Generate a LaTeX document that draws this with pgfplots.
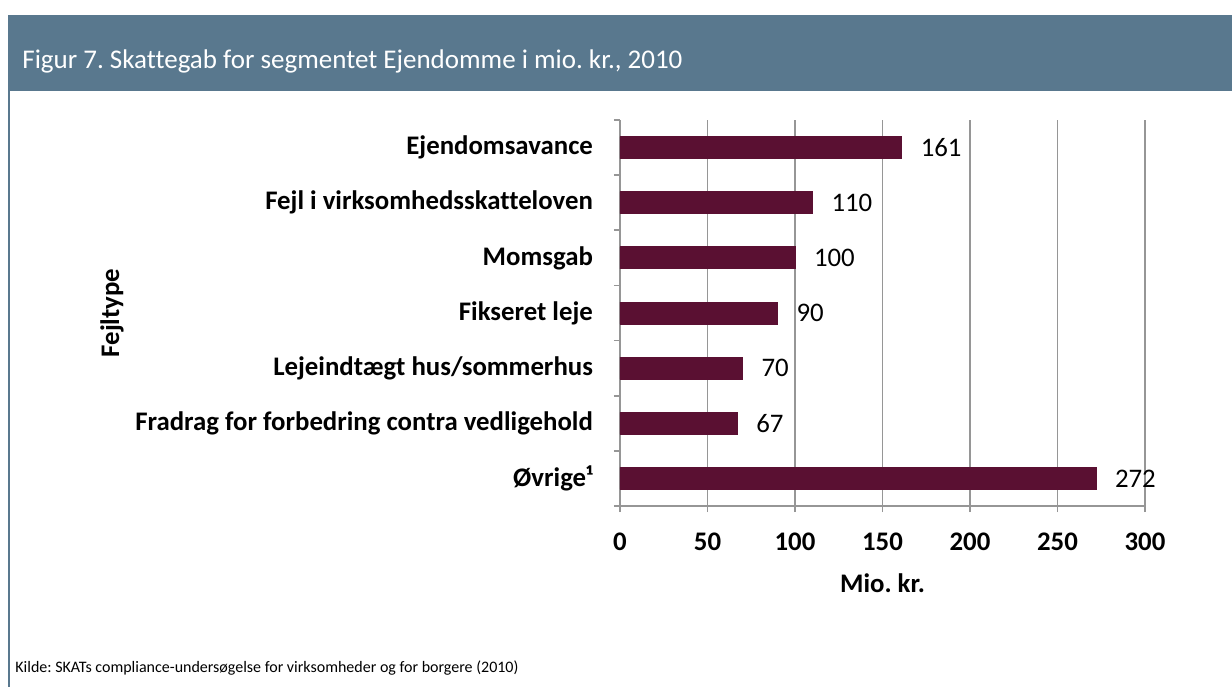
\documentclass[border=0pt]{standalone}
\usepackage{fontspec}
\setmainfont[Ligatures={TeX,NoCommon}]{Carlito}
\usepackage{pgfplots}
\pgfplotsset{compat=1.18}
\definecolor{band}{RGB}{89,120,142}
\definecolor{barc}{RGB}{90,16,50}
\definecolor{gridc}{RGB}{150,150,150}
\frenchspacing
\begin{document}
\begin{tikzpicture}
\path[use as bounding box] (0,0) rectangle (616pt,-343.5pt);
\fill[band] (4pt,-7.5pt) rectangle (616pt,-45.5pt);
\draw[band, line width=1pt] (4.5pt,-45.5pt) -- (4.5pt,-343.5pt);
\node[anchor=west, text=white, font=\fontsize{13.5}{15}\selectfont, inner sep=0pt] at (11pt,-30.5pt) {Figur 7. Skattegab for segmentet Ejendomme i mio. kr., 2010};
\node[anchor=west, font=\fontsize{8}{9.5}\selectfont, inner sep=0pt] at (7.5pt,-334pt) {Kilde: SKATs compliance-undersøgelse for virksomheder og for borgere (2010)};
\begin{axis}[
  at={(310pt,-253pt)}, anchor=south west,
  scale only axis, width=262.5pt, height=193pt,
  xbar, bar width=11pt,
  xmin=0, xmax=300, ymin=-0.5, ymax=6.5,
  axis lines*=left,
  axis line style={gridc, line width=0.8pt},
  xtick={0,50,...,300},
  xmajorgrids, grid style={gridc, line width=0.8pt},
  tick align=outside, major tick length=3pt,
  tick style={gridc, line width=0.8pt},
  ytick={-0.5,0.5,...,6.5}, yticklabels={},
  extra y ticks={0,1,2,3,4,5,6},
  extra y tick labels={Øvrige¹, Fradrag for forbedring contra vedligehold, Lejeindtægt hus/sommerhus, Fikseret leje, Momsgab, Fejl i virksomhedsskatteloven, Ejendomsavance},
  extra y tick style={tick style={draw=none}, yticklabel style={xshift=-7pt}},
  /pgf/number format/assume math mode=true,
  ticklabel style={font=\bfseries\fontsize{13.4}{15}\selectfont},
  xticklabel style={yshift=-7pt},
  xlabel={Mio. kr.}, ylabel={Fejltype},
  label style={font=\bfseries\fontsize{13.4}{15}\selectfont},
  xlabel style={at={(axis description cs:0.5,-0.1995)}, anchor=center},
  ylabel style={at={(axis description cs:-0.9676,0.5)}, anchor=center},
  nodes near coords, point meta=x,
  nodes near coords style={font=\fontsize{13.4}{15}\selectfont, anchor=west, xshift=6pt, text=black},
]
\addplot[fill=barc, draw=barc] coordinates {(272,0) (67,1) (70,2) (90,3) (100,4) (110,5) (161,6)};
\end{axis}
\end{tikzpicture}
\end{document}
